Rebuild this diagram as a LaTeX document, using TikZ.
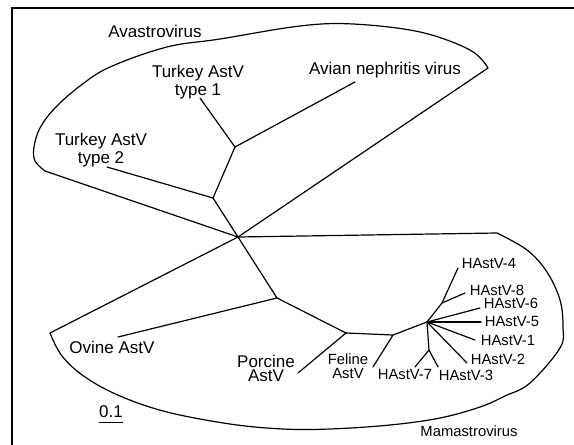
\documentclass[tikz,border=0pt]{standalone}
\usepackage{fontspec}
\setmainfont{Liberation Sans}
\usetikzlibrary{calc}

\begin{document}
\begin{tikzpicture}[x=0.5pt,y=-0.5pt,
  lbl/.style={font=\fontsize{8.5}{7}\selectfont,align=center,inner sep=0pt},
  slbl/.style={font=\fontsize{7.4}{7}\selectfont,align=center,inner sep=0pt},
  branch/.style={line width=0.6pt,line cap=round},
  clade/.style={line width=0.6pt,line join=round}]
  \useasboundingbox (0,0) rectangle (574,445);
  \draw[line width=1pt] (12,445) -- (12,8) -- (574,8);
  % tree nodes
  \coordinate (c) at (238,237);
  \coordinate (a1) at (213,198);
  \coordinate (a2) at (235,147);
  \coordinate (tt2) at (107,167);
  \coordinate (tt1) at (200,98);
  \coordinate (tanv) at (355,82);
  \coordinate (m1) at (277,298);
  \coordinate (tov) at (118,337);
  \coordinate (m2) at (346,333);
  \coordinate (tpo) at (298,373);
  \coordinate (m3) at (393,335);
  \coordinate (tfe) at (373,367);
  \coordinate (h) at (427,322);
  \coordinate (h8) at (442,303);
  \coordinate (h7) at (429,350);
  \coordinate (t4) at (458,268);
  \coordinate (t8) at (465,293);
  \coordinate (t6) at (480,308);
  \coordinate (t5) at (481,322);
  \coordinate (t1) at (475,340);
  \coordinate (t2) at (467,363);
  \coordinate (t7) at (415,367);
  \coordinate (t3) at (438,367);
  % clades
  \draw[clade] (c) -- plot[smooth,tension=0.6] coordinates {(488,68) (470,50) (420,32) (353,24) (300,26) (220,39) (167,47) (110,67) (80,86) (55,108) (40,128) (34,147) (35,161) (45,171)} -- (c);
  \draw[clade] (c) -- (497,233) -- plot[smooth,tension=0.6] coordinates {(497,233) (527,250) (547,272) (560,300) (563,327) (560,348) (530,383) (505,396) (480,407) (440,418) (390,425) (330,429) (283,429) (230,424) (167,412) (120,396) (85,377) (62,356) (50,333)} -- (c);
  % branches
  \draw[branch] (c) -- (a1) -- (tt2);
  \draw[branch] (a1) -- (a2) -- (tt1);
  \draw[branch] (a2) -- (tanv);
  \draw[branch] (c) -- (m1) -- (tov);
  \draw[branch] (m1) -- (m2) -- (tpo);
  \draw[branch] (m2) -- (m3) -- (tfe);
  \draw[branch] (m3) -- (h) -- (h8) -- (t4);
  \draw[branch] (h8) -- (t8);
  \draw[branch] (h) -- (t6);
  \draw[branch] (h) -- (t5);
  \draw[branch] (h) -- (t1);
  \draw[branch] (h) -- (t2);
  \draw[branch] (h) -- (h7) -- (t7);
  \draw[branch] (h7) -- (t3);
  % labels
  \node[lbl] (avas) at (155,31) {Avastrovirus};
  \node[lbl] (ltt1) at (198,82) {Turkey AstV\\type 1};
  \node[lbl] (ltt2) at (101,150) {Turkey AstV\\type 2};
  \node[lbl] (lanv) at (385,70) {Avian nephritis virus};
  \node[lbl] (lov) at (112,347) {Ovine AstV};
  \node[lbl] (lpo) at (266,368) {Porcine\\AstV};
  \node[slbl] (lfe) at (348,366) {Feline\\AstV};
  \node[slbl] (l4) at (489,263) {HAstV-4};
  \node[slbl] (l8) at (497,290) {HAstV-8};
  \node[slbl] (l6) at (511,303) {HAstV-6};
  \node[slbl] (l5) at (512,321) {HAstV-5};
  \node[slbl] (l1) at (508,340) {HAstV-1};
  \node[slbl] (l2) at (498,359) {HAstV-2};
  \node[slbl] (l7) at (405,374) {HAstV-7};
  \node[slbl] (l3) at (466,375) {HAstV-3};
  \node[slbl] (mama) at (469,431) {Mamastrovirus};
  \node[lbl] (sc) at (111,412) {0.1};
  \draw[line width=0.8pt] ([yshift=-2pt]sc.south west) -- ([yshift=-2pt]sc.south east);
\end{tikzpicture}
\end{document}
